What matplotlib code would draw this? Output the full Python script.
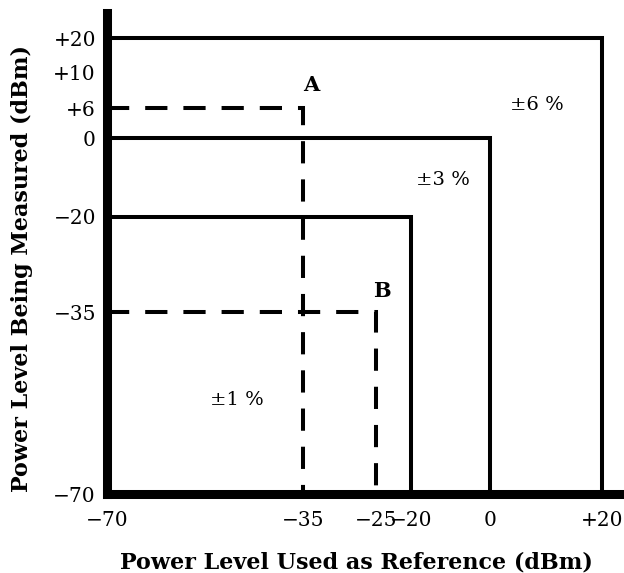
import matplotlib
matplotlib.use('Agg')
import matplotlib.pyplot as plt
import numpy as np

# Accuracy regions: upper-right corner of each box (reference, measured) in dBm
box_corners = [(20, 20), (0, 0), (-20, -20)]
box_labels = ['±6 %', '±3 %', '±1 %']
# where the accuracy labels sit (dBm)
box_label_pos = [(8.4, 6.3), (-11.9, -10.6), (-46.8, -51.9)]

# Example points A and B (reference, measured)
points = [(-35, 6), (-25, -35)]
point_names = ['A', 'B']
point_label_pos = [(-33.9, 8.6), (-24.1, -31.7)]

x_ticks = [-70, -35, -25, -20, 0, 20]
x_ticklabels = ['−70', '−35', '−25', '−20', '0', '+20']
y_ticks = [-70, -35, -20, 0, 6, 10, 20]
y_ticklabels = ['−70', '−35', '−20', '0', '+6', '+10', '+20']

# the axes are schematic (not to scale): piecewise linear scale
x_brk = [-70, -35, -25, -20, 0, 20, 24]
x_pos = [0, 196, 269, 304, 383, 495, 517]
y_brk = [-70, -35, -20, 0, 6, 10, 20, 26]
y_pos = [0, 182, 277, 356, 386, 422, 456, 481]


def fwd_x(v):
    return np.interp(v, x_brk, x_pos, left=-1e3, right=1e3)


def inv_x(v):
    return np.interp(v, x_pos, x_brk)


def fwd_y(v):
    return np.interp(v, y_brk, y_pos, left=-1e3, right=1e3)


def inv_y(v):
    return np.interp(v, y_pos, y_brk)


plt.rcParams['font.family'] = 'DejaVu Serif'
plt.rcParams['lines.scale_dashes'] = False

fig = plt.figure(figsize=(6.24, 5.73), dpi=100)
ax = fig.add_axes([107 / 624, (573 - 494) / 573, (624 - 107) / 624, (494 - 13) / 573])
ax.set_xscale('function', functions=(fwd_x, inv_x))
ax.set_yscale('function', functions=(fwd_y, inv_y))
ax.set_xlim(-70, 24)
ax.set_ylim(-70, 26)

lw = 2.9
for (cx, cy), txt, (tx, ty) in zip(box_corners, box_labels, box_label_pos):
    ax.plot([-70, cx, cx], [cy, cy, -70], color='black', lw=lw,
            solid_joinstyle='miter', clip_on=False)
    ax.text(tx, ty, txt, fontsize=14, ha='center', va='center')

for (px, py), name, (tx, ty) in zip(points, point_names, point_label_pos):
    ax.plot([-70, px, px], [py, py, -70], color='black', lw=lw,
            dashes=(16, 11.5), dash_joinstyle='miter', clip_on=False)
    ax.text(tx, ty, name, fontsize=15, fontweight='bold', ha='center', va='center')

for side in ['top', 'right']:
    ax.spines[side].set_visible(False)
for side in ['left', 'bottom']:
    ax.spines[side].set_linewidth(6.5)
    ax.spines[side].set_capstyle('projecting')

ax.set_xticks(x_ticks)
ax.set_xticklabels(x_ticklabels)
ax.set_yticks(y_ticks)
ax.set_yticklabels(y_ticklabels)
ax.xaxis.set_minor_locator(matplotlib.ticker.NullLocator())
ax.yaxis.set_minor_locator(matplotlib.ticker.NullLocator())
ax.tick_params(length=0, labelsize=14.5)
ax.tick_params(axis='x', pad=12)
ax.tick_params(axis='y', pad=8)

fig.text(356 / 624, 1 - 562 / 573, 'Power Level Used as Reference (dBm)',
         fontsize=16, fontweight='bold', ha='center', va='center')
fig.text(22 / 624, 1 - 268 / 573, 'Power Level Being Measured (dBm)',
         fontsize=16, fontweight='bold', ha='center', va='center', rotation=90)

fig.savefig('out.png', dpi=100)
